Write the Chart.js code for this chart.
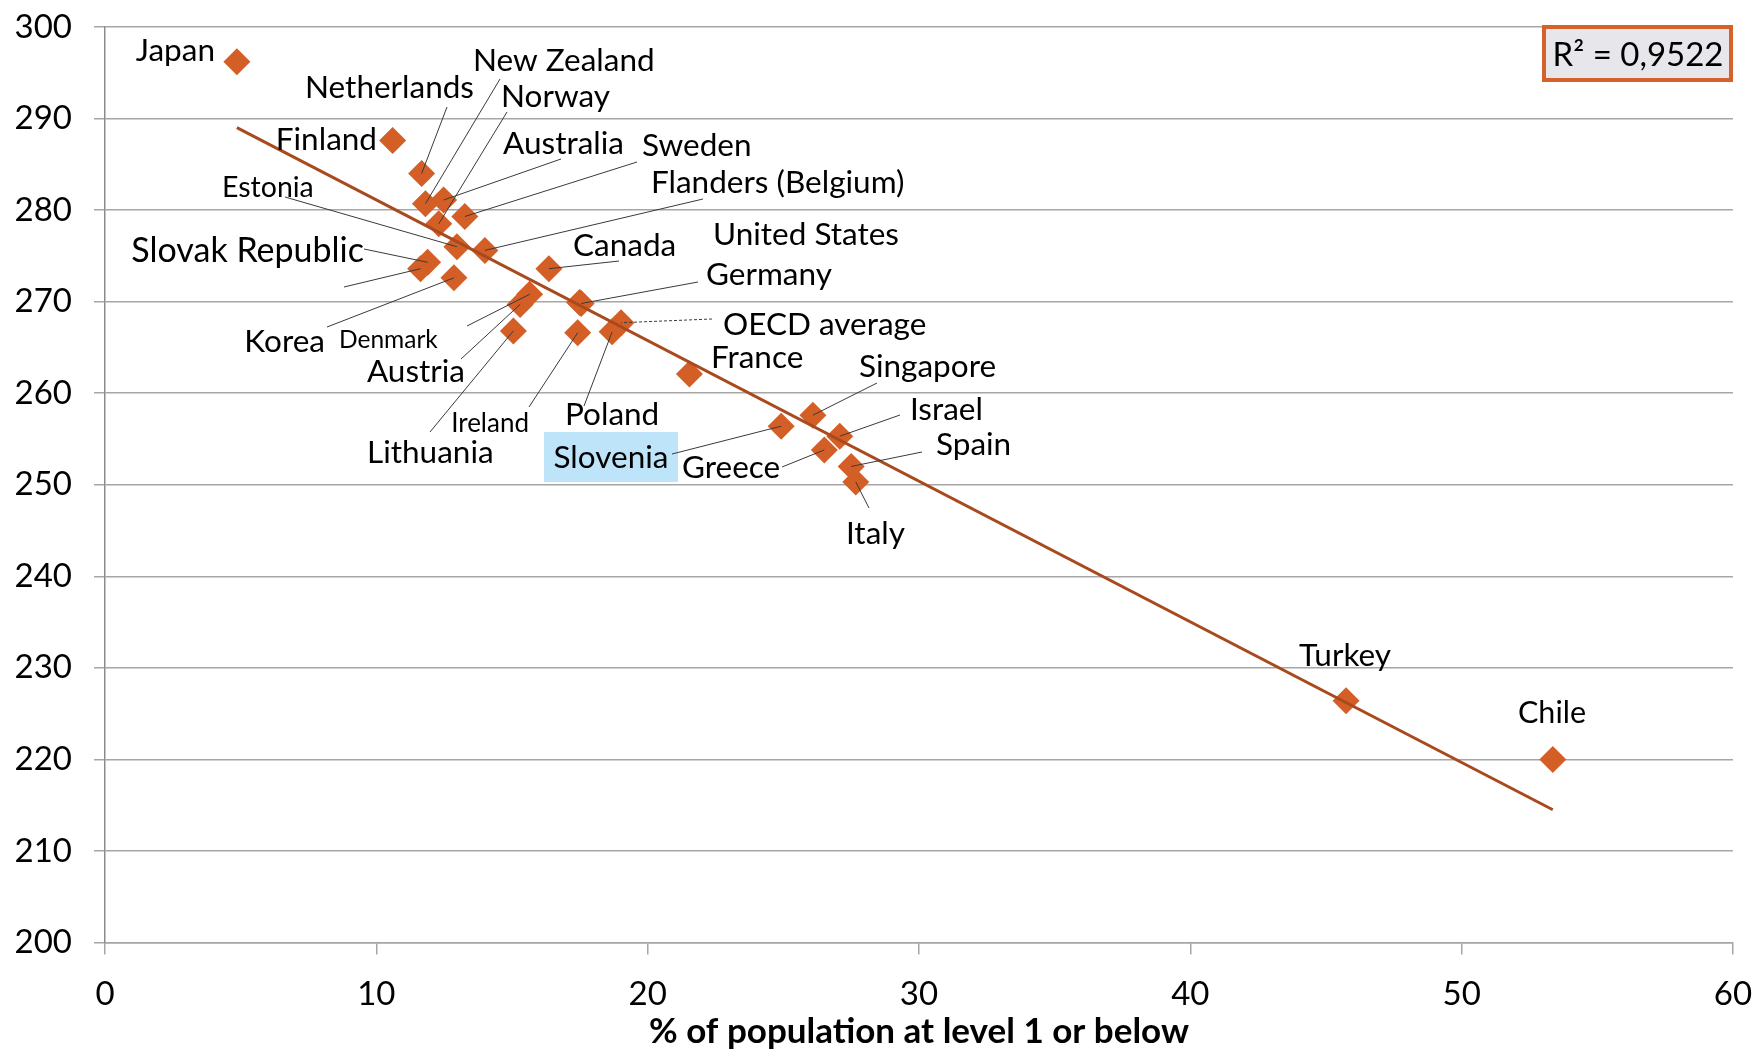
<!DOCTYPE html>
<html>
<head>
<meta charset="utf-8">
<script src="https://cdn.jsdelivr.net/npm/chart.js@4.4.1/dist/chart.umd.min.js"></script>
<style>
  html, body { margin: 0; padding: 0; background: #fff; }
</style>
</head>
<body>
<canvas id="literacy_scatter" width="1755" height="1051"></canvas>
<script>
  const countries = [
    "Japan", "Finland", "Netherlands", "New Zealand", "Australia", "Norway",
    "Sweden", "Estonia", "Flanders (Belgium)", "Slovak Republic", "Czech Republic",
    "Korea", "Canada", "Denmark", "Austria", "Lithuania", "United States",
    "Germany", "Ireland", "OECD average", "Poland", "France", "Singapore",
    "Slovenia", "Israel", "Greece", "Spain", "Italy", "Turkey", "Chile"
  ]
  // % of population at level 1 or below
  const levelOneOrBelow = [
    4.86, 10.60, 11.67, 11.81, 12.48, 12.30,
    13.26, 12.97, 14.00, 11.89, 11.63,
    12.86, 16.36, 15.65, 15.30, 15.05, 17.49,
    17.55, 17.42, 19.02, 18.69, 21.54, 26.09,
    24.92, 27.08, 26.51, 27.50, 27.67, 45.74, 53.36
  ]
  // mean literacy score
  const literacyScore = [
    296.2, 287.6, 284.0, 280.7, 281.1, 278.5,
    279.3, 276.0, 275.6, 274.3, 273.6,
    272.6, 273.6, 270.8, 269.7, 266.8, 269.9,
    269.8, 266.6, 267.7, 266.7, 262.1, 257.6,
    256.4, 255.3, 253.8, 252.0, 250.3, 226.4, 220.0
  ]
  const trendX = [4.86, 53.36]
  const trendY = [289.0, 214.5]
  const xTickValues = [0, 10, 20, 30, 40, 50, 60]
  const yTickValues = [200, 210, 220, 230, 240, 250, 260, 270, 280, 290, 300]
  const rSquaredText = "R² = 0,9522"
  const xAxisTitle = "% of population at level 1 or below"

  const markerColor = "#d35f27"
  const trendColor = "#a84a1e"
  const gridColor = "#a6a6a6"
  const fontFamily = "Lato, 'Open Sans', sans-serif"
  const labelSize = 31.5

  // where each country name sits (canvas px, text baseline) and where its leader starts
  const labelSpots = {
    "Japan": {tx: 215, ty: 61, align: "right"},
    "Finland": {tx: 377, ty: 150, align: "right"},
    "Netherlands": {tx: 474, ty: 98, align: "right", lead: [447, 107]},
    "New Zealand": {tx: 473, ty: 71, lead: [500, 79]},
    "Australia": {tx: 503, ty: 154, lead: [561, 159]},
    "Norway": {tx: 501, ty: 107, lead: [507, 112]},
    "Sweden": {tx: 642, ty: 156, lead: [637, 162]},
    "Estonia": {tx: 222, ty: 197, size: 28.5, lead: [285, 197]},
    "Flanders (Belgium)": {tx: 651, ty: 193, lead: [703, 199]},
    "Slovak Republic": {tx: 364, ty: 262, align: "right", size: 34, lead: [364, 249]},
    "Czech Republic": {hideText: true, lead: [344, 287]},
    "Korea": {tx: 325, ty: 352, align: "right", lead: [327, 327]},
    "Canada": {tx: 573, ty: 256, lead: [619, 261]},
    "Denmark": {tx: 339, ty: 348, size: 24.5, lead: [467, 326]},
    "Austria": {tx: 465, ty: 382, align: "right", lead: [461, 359]},
    "Lithuania": {tx: 367, ty: 463, lead: [430, 432]},
    "United States": {tx: 713, ty: 245},
    "Germany": {tx: 706, ty: 285, lead: [698, 282]},
    "Ireland": {tx: 529, ty: 432, align: "right", size: 26, lead: [529, 407]},
    "OECD average": {tx: 723, ty: 335, lead: [712, 319], dash: true},
    "Poland": {tx: 565, ty: 425, lead: [584, 406]},
    "France": {tx: 711, ty: 368},
    "Singapore": {tx: 859, ty: 377, lead: [877, 383]},
    "Slovenia": {tx: 611, ty: 468, align: "center", box: [544, 432, 134, 50], lead: [672, 454]},
    "Israel": {tx: 910, ty: 420, lead: [900, 415]},
    "Greece": {tx: 682, ty: 478, lead: [782, 467]},
    "Spain": {tx: 936, ty: 455, lead: [922, 452]},
    "Italy": {tx: 846, ty: 544, lead: [869, 508]},
    "Turkey": {tx: 1345, ty: 666, align: "center"},
    "Chile": {tx: 1552, ty: 723, align: "center", size: 30.5}
  }

  const countryLabels = {
    id: "countryLabels",
    beforeDatasetsDraw(chart) {
      const ctx = chart.ctx
      ctx.save()
      Object.values(labelSpots).forEach(spot => {
        if (spot.box) {
          ctx.fillStyle = "#bde4f9"
          ctx.fillRect(...spot.box)
        }
      })
      ctx.restore()
    },
    afterDatasetsDraw(chart) {
      const {ctx, scales: {x, y}} = chart
      ctx.save()
      countries.forEach((name, i) => {
        const spot = labelSpots[name]
        if (!spot) return
        const px = x.getPixelForValue(levelOneOrBelow[i])
        const py = y.getPixelForValue(literacyScore[i])
        if (spot.lead) {
          ctx.beginPath()
          ctx.strokeStyle = "#3a3a3a"
          ctx.lineWidth = 1
          ctx.setLineDash(spot.dash ? [3, 2] : [])
          ctx.moveTo(spot.lead[0], spot.lead[1])
          ctx.lineTo(px, py)
          ctx.stroke()
        }
        if (!spot.hideText) {
          ctx.setLineDash([])
          ctx.fillStyle = "#000"
          ctx.font = `${spot.size || labelSize}px ${fontFamily}`
          ctx.textAlign = spot.align || "left"
          ctx.textBaseline = "alphabetic"
          ctx.fillText(name, spot.tx, spot.ty)
        }
      })

      // R² box in the top right corner
      const area = chart.chartArea
      ctx.setLineDash([])
      ctx.fillStyle = "#e6e6eb"
      ctx.strokeStyle = "#d4622a"
      ctx.lineWidth = 4
      ctx.fillRect(area.right - 189, 27, 187, 53)
      ctx.strokeRect(area.right - 189, 27, 187, 53)
      ctx.fillStyle = "#000"
      ctx.font = `33px ${fontFamily}`
      ctx.textAlign = "center"
      ctx.fillText(rSquaredText, area.right - 95, 66)
      ctx.restore()
    }
  }

  const chart = new Chart(document.getElementById("literacy_scatter").getContext("2d"), {
    type: "scatter",
    data: {
      datasets: [{
        label: "Trend",
        data: trendX.map((v, i) => ({x: v, y: trendY[i]})),
        showLine: true,
        borderColor: trendColor,
        borderWidth: 3,
        pointRadius: 0,
        order: 0
      }, {
        label: "Countries",
        data: countries.map((c, i) => ({x: levelOneOrBelow[i], y: literacyScore[i]})),
        pointStyle: "rectRot",
        pointRadius: 13.5,
        backgroundColor: markerColor,
        borderColor: markerColor,
        borderWidth: 0,
        order: 1
      }]
    },
    options: {
      responsive: false,
      animation: false,
      layout: {padding: {left: 0, right: 22, top: 27, bottom: 0}},
      plugins: {
        legend: {display: false},
        tooltip: {enabled: false}
      },
      scales: {
        x: {
          type: "linear",
          min: 0,
          max: 60,
          afterBuildTicks: s => { s.ticks = xTickValues.map(v => ({value: v})) },
          afterFit: s => {
            s.height = 108.5
            s.paddingLeft = 0
            s.paddingRight = 0
          },
          grid: {drawOnChartArea: false, tickLength: 12, color: gridColor, lineWidth: 1.5},
          border: {color: gridColor, width: 1.5},
          ticks: {font: {family: fontFamily, size: 33}, color: "#000", padding: 20, maxRotation: 0},
          title: {
            display: true,
            text: xAxisTitle,
            font: {family: fontFamily, size: 35, weight: "bold", lineHeight: 1.1},
            color: "#000",
            padding: {top: 0, bottom: 0}
          }
        },
        y: {
          min: 200,
          max: 300,
          afterBuildTicks: s => { s.ticks = yTickValues.map(v => ({value: v})) },
          afterFit: s => {
            s.width = 105
            s.paddingTop = 0
            s.paddingBottom = 0
          },
          grid: {color: gridColor, lineWidth: 1.5, tickLength: 11},
          border: {color: "#8c8c8c", width: 1.5},
          ticks: {font: {family: fontFamily, size: 33}, color: "#000", padding: 22}
        }
      }
    },
    plugins: [countryLabels]
  })
</script>
</body>
</html>
